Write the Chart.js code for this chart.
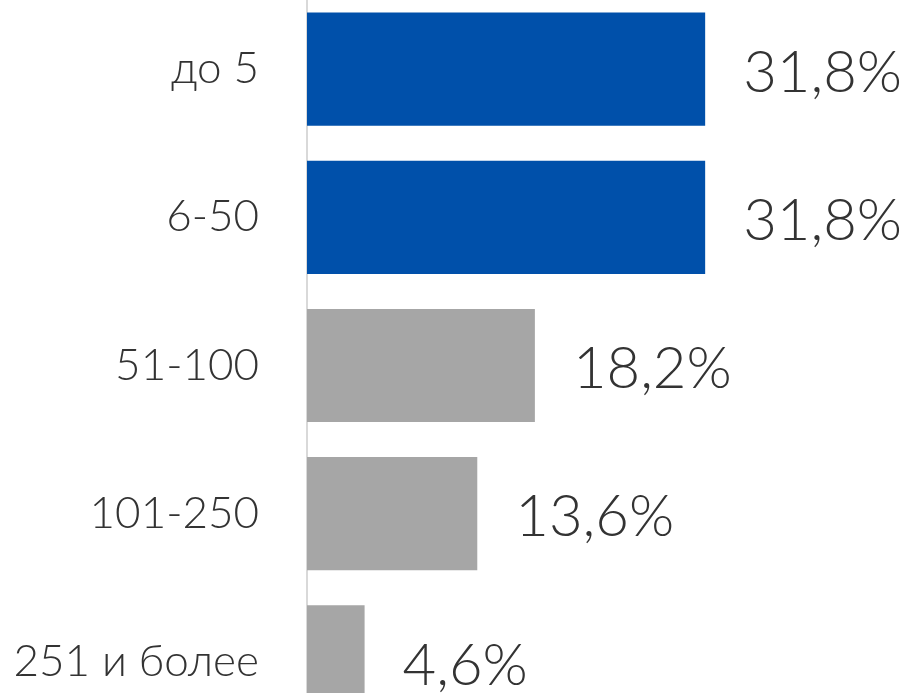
<!DOCTYPE html>
<html>
<head>
<meta charset="utf-8">
<script src="https://cdn.jsdelivr.net/npm/chart.js@4/dist/chart.umd.min.js"></script>
<style>
  html, body { margin: 0; padding: 0; background: #fff; overflow: hidden; }
  #wrap { position: absolute; left: 0; top: -5px; width: 908px; height: 741px; }
</style>
</head>
<body>
<div id="wrap"><canvas id="chart"></canvas></div>
<script>
const categories = ["до 5", "6-50", "51-100", "101-250", "251 и более"];
const shares = [31.8, 31.8, 18.2, 13.6, 4.6];
const barColors = ["#0050aa", "#0050aa", "#a6a6a6", "#a6a6a6", "#a6a6a6"];

const FONT = "Lato, Roboto, 'Open Sans', sans-serif";

// value labels to the right of each bar
const valueLabels = {
  id: "valueLabels",
  afterDatasetsDraw(chart) {
    const { ctx } = chart;
    const meta = chart.getDatasetMeta(0);
    ctx.save();
    ctx.font = "300 58px " + FONT;
    ctx.fillStyle = "#333333";
    ctx.textAlign = "left";
    ctx.textBaseline = "middle";
    meta.data.forEach((bar, i) => {
      const txt = shares[i].toFixed(1).replace(".", ",") + "%";
      ctx.fillText(txt, bar.x + 38, bar.y + 4);
    });
    ctx.restore();
  }
};

new Chart(document.getElementById("chart"), {
  type: "bar",
  data: {
    labels: categories,
    datasets: [
      {
        data: shares,
        backgroundColor: barColors,
        borderWidth: 0,
        categoryPercentage: 1,
        barPercentage: 0.764,
      },
    ],
  },
  options: {
    indexAxis: "y",
    responsive: true,
    maintainAspectRatio: false,
    animation: false,
    layout: { padding: 0 },
    scales: {
      x: {
        display: false,
        min: 0,
        max: 48,
      },
      y: {
        afterFit: (scale) => {
          scale.width = 307;
          scale.paddingTop = 0;
          scale.paddingBottom = 0;
        },
        grid: { display: false, drawTicks: false },
        border: { display: true, color: "#d9d9d9", width: 2 },
        ticks: {
          padding: 48,
          color: "#333333",
          font: { family: FONT, size: 44, weight: "300" },
        },
      },
    },
    plugins: {
      legend: { display: false },
      tooltip: { enabled: false },
    },
  },
  plugins: [valueLabels],
});
</script>
</body>
</html>
